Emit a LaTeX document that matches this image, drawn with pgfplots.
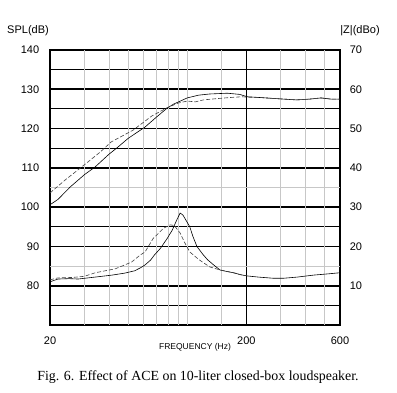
\documentclass[border=0pt]{standalone}
\usepackage{pgfplots}
\pgfplotsset{compat=1.18}
\usepackage{fontspec}
\setmainfont{Liberation Serif}
\newfontfamily\arial{Liberation Sans}

\pgfplotstableread{
f spl
20 100.6
22 102.0
25.3 105.1
30 108.3
33.9 110.2
40 113.5
43.9 115.1
50 117.5
61 120.4
70 123.0
79 125.2
85 126.2
100 127.8
114 128.5
130 128.8
160 129.0
185 128.7
202 128.1
235 127.9
270 127.7
310 127.5
360 127.3
420 127.5
480 127.8
540 127.5
600 127.5
}\splsolid

\pgfplotstableread{
f spl
20 103.6
24 107.0
27 109.0
31.2 111.5
36 114.0
41 116.6
53 119.6
66 123.2
79 125.3
90 126.5
100 127.0
110 126.8
121 127.3
140 127.6
165 127.9
190 128.1
202 128.0
235 127.9
270 127.7
310 127.5
360 127.3
420 127.5
480 127.8
540 127.5
600 127.5
}\spldashed

\pgfplotstableread{
f z
20 11.0
22 11.7
25 11.8
27.8 11.7
34 12.2
41.4 12.7
48 13.2
54 13.8
58 14.6
61 15.3
65 16.5
68 17.8
73 19.5
79 22.0
84 24.2
88 26.5
92 28.5
95 28.0
99 26.5
103 25.0
107 22.5
112 20.0
120 18.0
127 16.6
137 15.2
147 14.0
160 13.6
172 13.3
187 12.8
201 12.5
230 12.2
274 11.9
310 11.9
364 12.2
440 12.7
518 13.0
600 13.3
}\zsolid

\pgfplotstableread{
f z
20 11.5
22 12.0
26 12.1
30 12.4
34 13.3
43 14.3
52 16.0
57.6 17.8
61 18.6
67 22.0
75.6 24.6
82 25.5
86 25.3
92 23.4
97 21.0
103 18.6
115 16.6
130 14.8
147 14.0
172 13.3
187 12.8
201 12.5
}\zdashed

\begin{document}
\begin{tikzpicture}[x=1pt,y=1pt]
\useasboundingbox (0,0) rectangle (397,393);
\begin{axis}[
  at={(50pt,68pt)}, anchor=south west, scale only axis,
  width=290pt, height=275pt,
  xmode=log, xmin=20, xmax=600, ymin=70, ymax=140,
  xtick={20,200,600}, xticklabels={20,200,600},
  ytick={80,90,...,140},
  minor ytick={75,95,115,125,135},
  extra x ticks={30,40,50,60,70,80,90,100,150,300,400,500},
  extra x tick labels={},
  extra y ticks={85,105},
  extra y tick labels={},
  extra tick style={grid=major, major grid style={black!22, line width=0.9pt}},
  grid=both,
  major grid style={black, line width=1.6pt},
  minor grid style={black, line width=1.0pt},
  major tick length=0pt, minor tick length=0pt,
  axis line style={black, line width=1.8pt},
  /pgf/number format/assume math mode=true,
  tick label style={font=\arial\fontsize{11}{11}\selectfont},
  yticklabel style={xshift=-7.3pt},
  xticklabel style={yshift=-8.3pt},
]
\addplot[black, line width=0.6pt] table[x=f,y=spl] {\splsolid};
\addplot[black!75, line width=0.6pt, dash pattern=on 4pt off 2pt] table[x=f,y=spl] {\spldashed};
\end{axis}
\begin{axis}[
  at={(50pt,68pt)}, anchor=south west, scale only axis,
  width=290pt, height=275pt,
  xmode=log, xmin=20, xmax=600, ymin=0, ymax=70,
  hide x axis,
  axis y line*=right,
  y axis line style={draw=none},
  ytick={10,20,...,70},
  major tick length=0pt,
  /pgf/number format/assume math mode=true,
  tick label style={font=\arial\fontsize{11}{11}\selectfont},
  yticklabel style={xshift=6.3pt},
]
\addplot[black, line width=0.6pt] table[x=f,y=z] {\zsolid};
\addplot[black!75, line width=0.6pt, dash pattern=on 4pt off 2pt] table[x=f,y=z] {\zdashed};
\end{axis}
\node[font=\arial\fontsize{11}{11}\selectfont] at (28,362) {SPL(dB)};
\node[font=\arial\fontsize{11}{11}\selectfont] at (360,362) {|Z|(dBo)};
\node[font=\arial\fontsize{8.5}{8.5}\selectfont] at (195,46) {FREQUENCY (Hz)};
\node[font=\fontsize{13.9}{15}\selectfont] at (198,16) {Fig. 6. Effect of ACE on 10-liter closed-box loudspeaker.};
\end{tikzpicture}
\end{document}
